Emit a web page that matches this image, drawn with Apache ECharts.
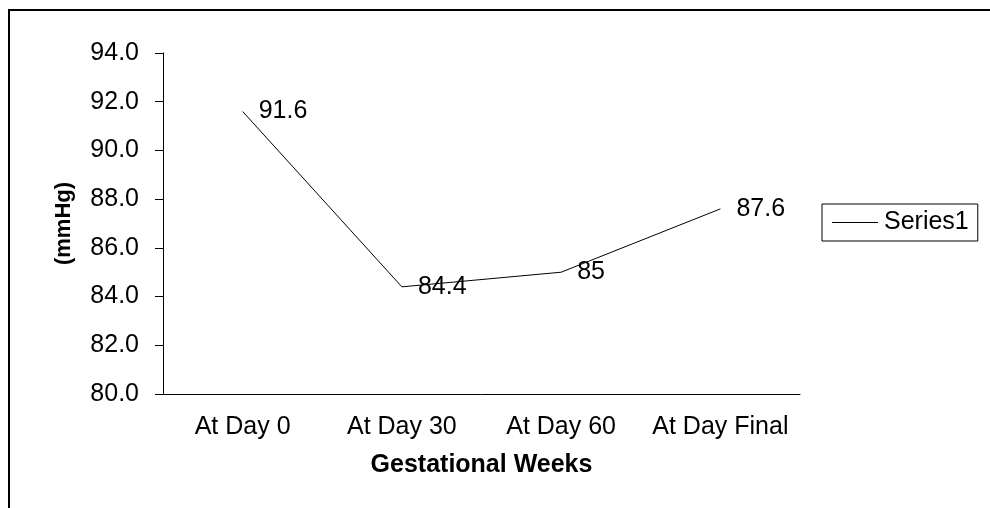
<!DOCTYPE html>
<html>
<head>
<meta charset="utf-8">
<script src="https://cdn.jsdelivr.net/npm/echarts@6/dist/echarts.min.js"></script>
<style>
  html, body { margin: 0; padding: 0; background: #fff; }
  #main { width: 990px; height: 508px; }
</style>
</head>
<body>
<div id="main"></div>
<script>
var categories = ['At Day 0', 'At Day 30', 'At Day 60', 'At Day Final'];
var series1 = [91.6, 84.4, 85, 87.6];
var yTicks = { min: 80, max: 94, interval: 2 };

var font = 'Liberation Sans, Arial, sans-serif';
var fs = 25;
var myChart = echarts.init(document.getElementById('main'));
var option = {
    backgroundColor: '#fff',
    animation: false,
    textStyle: { fontFamily: font, color: '#000' },
    // outer frame (only top and left edges show in the picture)
    graphic: [{
        type: 'rect',
        shape: { x: 9, y: 10, width: 1200, height: 1200 },
        style: { fill: 'none', stroke: '#000', lineWidth: 2 },
        silent: true
    }],
    grid: { left: 163, top: 53, right: 190, bottom: 114 },
    legend: {
        data: [{ name: 'Series1', icon: 'rect' }],
        left: 822,
        top: 204,
        orient: 'vertical',
        itemWidth: 46,
        itemHeight: 1,
        itemStyle: { color: '#000' },
        padding: [6, 9, 6, 10],
        borderColor: '#000',
        borderWidth: 1,
        textStyle: { fontFamily: font, fontSize: fs, color: '#000', lineHeight: 25, padding: [0, 0, 0, 1] }
    },
    xAxis: {
        type: 'category',
        data: categories,
        boundaryGap: true,
        name: 'Gestational Weeks',
        nameLocation: 'middle',
        nameGap: 59,
        nameTextStyle: { fontFamily: font, fontSize: 25, fontWeight: 'bold', color: '#000' },
        axisLine: { lineStyle: { color: '#000', width: 1 } },
        axisTick: { length: 6, lineStyle: { color: '#000' } },
        axisLabel: { fontSize: fs, color: '#000', margin: 21, interval: 0 }
    },
    yAxis: {
        type: 'value',
        min: yTicks.min,
        max: yTicks.max,
        interval: yTicks.interval,
        name: '(mmHg)',
        nameLocation: 'middle',
        nameGap: 88,
        nameRotate: 90,
        nameTextStyle: { fontFamily: font, fontSize: 22, fontWeight: 'bold', color: '#000' },
        axisLine: { show: true, lineStyle: { color: '#000', width: 1 } },
        axisTick: { show: true, length: 8, lineStyle: { color: '#000' } },
        splitLine: { show: false },
        axisLabel: {
            fontSize: fs, color: '#000', margin: 24,
            formatter: function (v) { return v.toFixed(1); }
        }
    },
    series: [{
        name: 'Series1',
        type: 'line',
        data: series1,
        symbol: 'circle',
        symbolSize: 0,
        showSymbol: true,
        lineStyle: { color: '#000', width: 1 },
        itemStyle: { color: '#000' },
        label: {
            show: true,
            position: 'right',
            distance: 16,
            fontSize: fs,
            color: '#000',
            fontFamily: font
        }
    }]
};
myChart.setOption(option);
</script>
</body>
</html>
